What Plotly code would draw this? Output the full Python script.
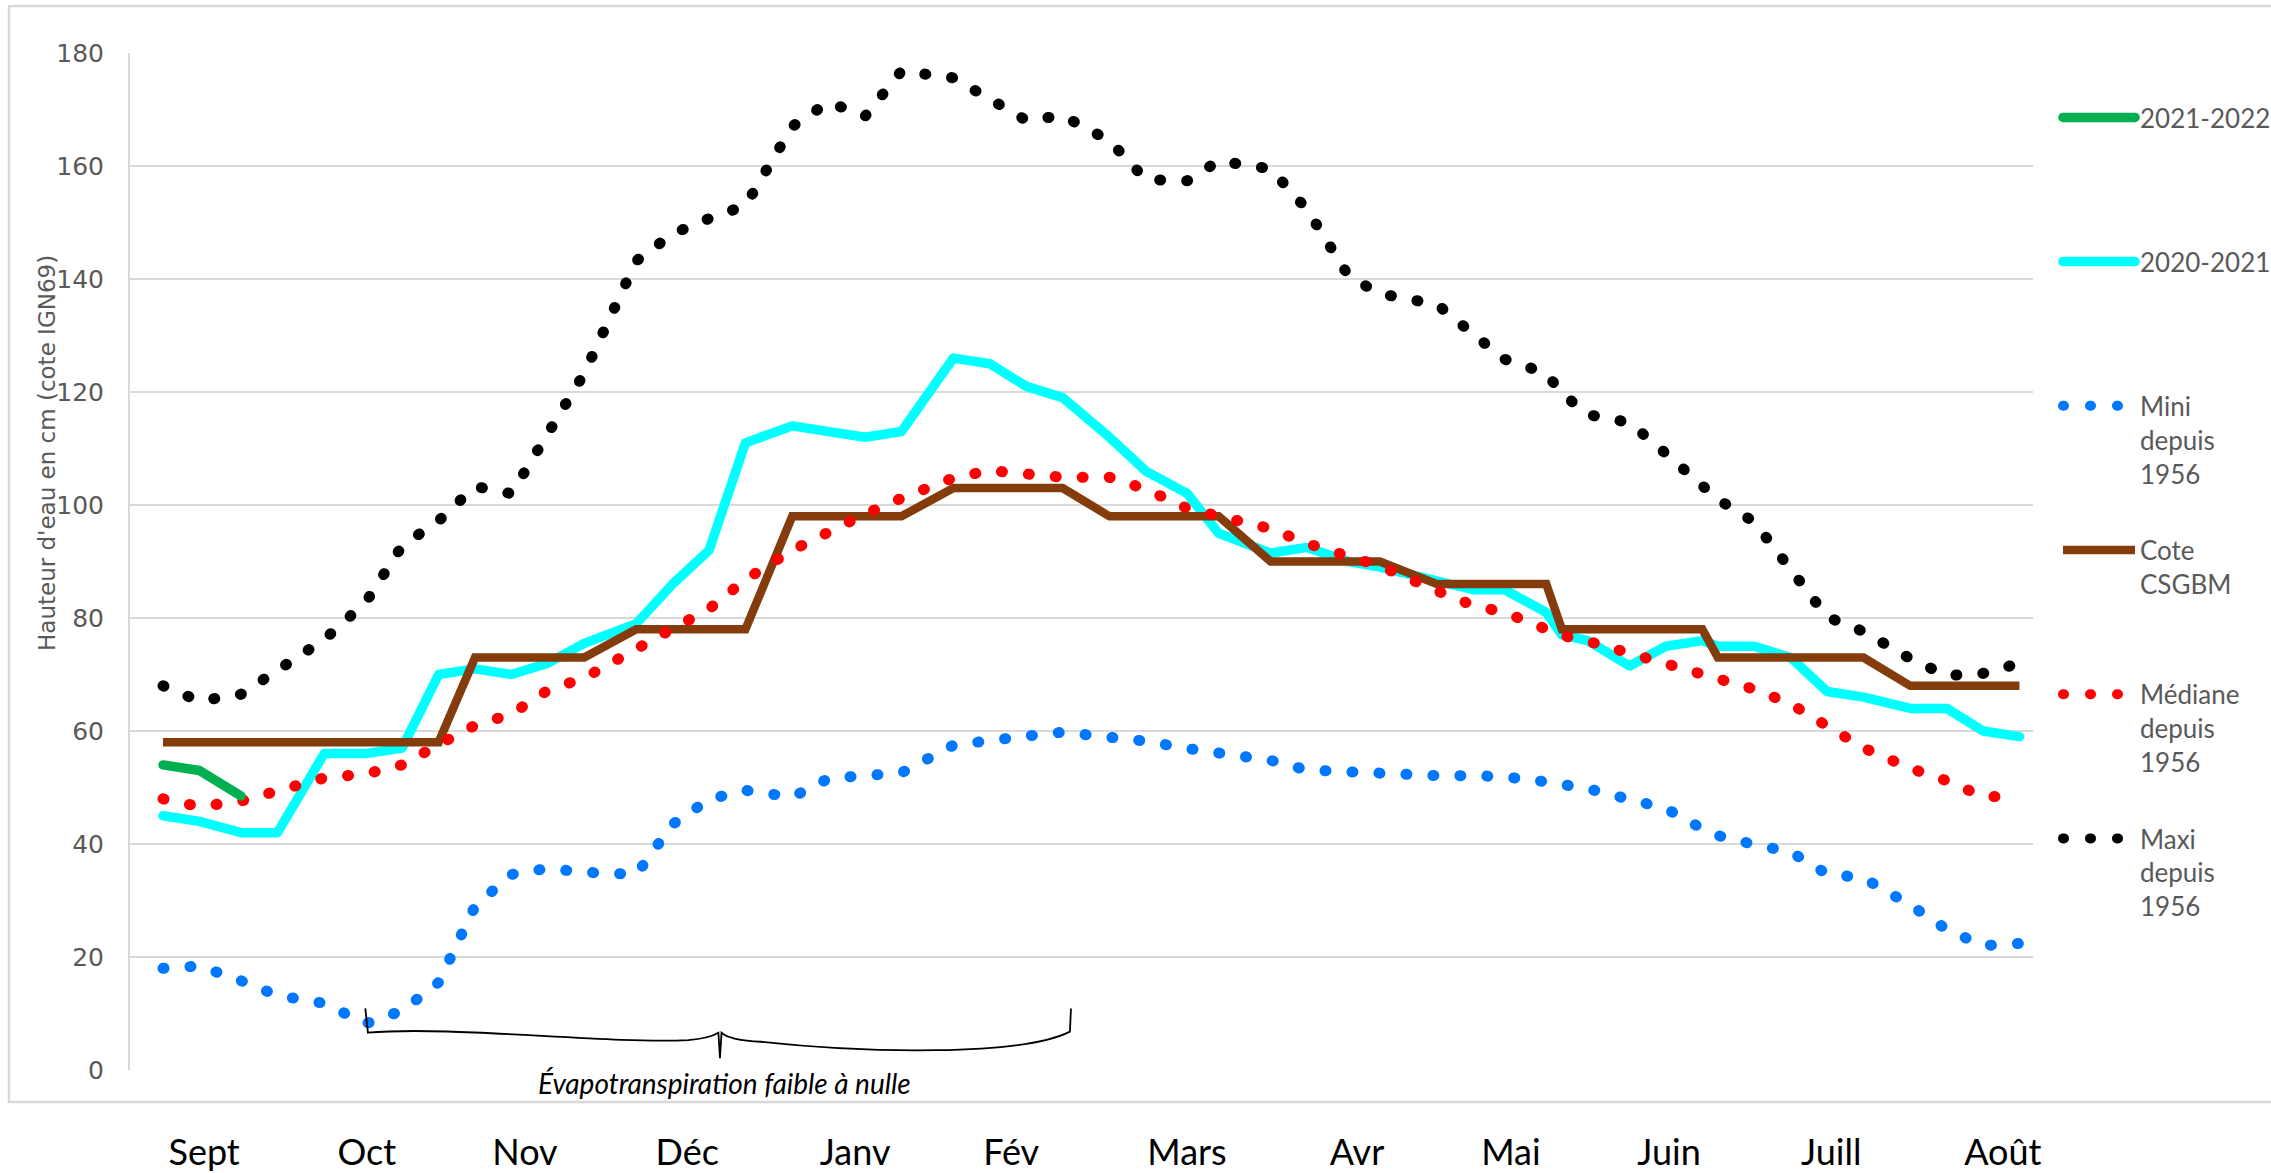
import plotly.graph_objects as go

# ---------------- données ----------------
# jours écoulés depuis le 1er septembre (dates des relevés)
jours = [0, 7, 15, 22, 31, 39, 46, 53, 60, 67,
         74, 81, 91, 98, 105, 112, 121, 128, 135, 142,
         152, 159, 166, 173, 182, 189, 197, 203, 213, 220,
         228, 234, 245, 252, 258, 266, 269, 274, 282, 289,
         296, 299, 306, 313, 320, 327, 336, 343, 350, 357]

mois = ["Sept", "Oct", "Nov", "Déc", "Janv", "Fév",
        "Mars", "Avr", "Mai", "Juin", "Juill", "Août"]

niveau_2021_2022 = [54, 53, 48.5]

niveau_2020_2021 = [45, 44, 42, 42, 56, 56, 57, 70, 71, 70,
                    72, 75.5, 79, 86, 92, 111, 114, 113, 112, 113,
                    126, 125, 121, 119, 112, 106, 102, 95, 91.5, 92.5,
                    90, 89, 86.5, 85, 85, 81, 77, 76, 71.5, 75,
                    76, 75, 75, 73, 67, 66, 64, 64, 60, 59]

cote_csgbm = [58, 58, 58, 58, 58, 58, 58, 58, 73, 73,
              73, 73, 78, 78, 78, 78, 98, 98, 98, 98,
              103, 103, 103, 103, 98, 98, 98, 98, 90, 90,
              90, 90, 86, 86, 86, 86, 78, 78, 78, 78,
              78, 73, 73, 73, 73, 73, 68, 68, 68, 68]

mini_1956 = [18, 18.4, 15.8, 13.2, 11.8, 8.2, 10.5, 15.5, 29, 34.6,
             35.7, 35, 34.6, 43.5, 47.9, 49.5, 48.3, 51.6, 52.1, 52.6,
             57.5, 58.5, 59.1, 59.8, 59.1, 58.2, 56.9, 56.1, 54.8, 53.1,
             52.8, 52.2, 52.1, 52.1, 51.9, 51, 50.6, 49.8, 47.9, 46.3,
             42.7, 41.5, 39.9, 38.6, 34.7, 34, 29.2, 24.9, 22, 22.4]

mediane_1956 = [48, 46.6, 47.6, 49.5, 51.7, 52.4, 54, 57.6, 61, 63,
                67.2, 69.4, 74.8, 78.1, 81.6, 86.8, 92, 95.4, 98.4, 101.2,
                104.8, 106.1, 105.3, 104.9, 104.9, 102.8, 99.4, 98.1, 95.8, 93.2,
                91.2, 89.2, 84.8, 82.2, 81, 78, 76.9, 75.9, 73.8, 72.2,
                70.3, 69.7, 67.4, 64.8, 60.8, 57, 53.4, 51.2, 48.4, 48.4]

maxi_1956 = [68, 65.3, 66.5, 71, 76.2, 82.8, 92.8, 97.2, 103.3, 102,
             113, 123.3, 143.2, 148, 150.7, 153, 167, 171.3, 168.8, 176.8,
             175.6, 171.9, 168.1, 168.9, 164.5, 157.6, 157.4, 160.9, 159.5, 152.3,
             140.5, 137.4, 135.5, 130.2, 125.8, 123.3, 119.8, 116, 114.6, 109.1,
             103.3, 101, 97, 88.4, 80.2, 77.6, 72.8, 69.8, 70.2, 72]

# ---------------- mise en page ----------------
W, H = 2271, 1173
ML, MR, MT, MB = 130, 238, 53, 103
PW = W - ML - MR
PH = H - MT - MB
X_RANGE = [-6.35, 359.6]
MOIS_POS = [7.9, 39.2, 69.6, 100.8, 133.1, 163.1, 196.9, 229.6, 259.2, 289.6, 320.8, 353.8]


def px_x(p):
    return (p - ML) / PW


def px_y(p):
    return (H - MB - p) / PH


GRID = "#D9D9D9"
TXT = "#595959"
DOT = "1px,26px"

fig = go.Figure()

fig.add_trace(go.Scatter(x=jours, y=niveau_2020_2021, mode="lines", name="2020-2021<br>\u00a0<br>\u00a0<br>\u00a0",
                         legendgroup="g2", line=dict(color="#00FFFF", width=9.5), legendrank=2))
fig.add_trace(go.Scatter(x=jours, y=cote_csgbm, mode="lines", name="Cote<br>CSGBM<br>\u00a0<br>\u00a0",
                         legendgroup="g4", line=dict(color="#843C0C", width=8.5), legendrank=4))
fig.add_trace(go.Scatter(x=jours, y=mini_1956, mode="lines", name="Mini<br>depuis<br>1956<br>\u00a0",
                         legendgroup="g3", line=dict(color="#0077FF", width=11, dash=DOT), legendrank=3))
fig.add_trace(go.Scatter(x=jours, y=mediane_1956, mode="lines", name="Médiane<br>depuis<br>1956<br>\u00a0",
                         legendgroup="g5", line=dict(color="#FF0000", width=11, dash=DOT), legendrank=5))
fig.add_trace(go.Scatter(x=jours, y=maxi_1956, mode="lines", name="Maxi<br>depuis<br>1956",
                         legendgroup="g6", line=dict(color="#000000", width=11, dash=DOT), legendrank=6))
fig.add_trace(go.Scatter(x=jours[:len(niveau_2021_2022)], y=niveau_2021_2022, mode="lines",
                         name="2021-2022<br>\u00a0<br>\u00a0<br>\u00a0", legendgroup="g1",
                         line=dict(color="#00B050", width=9.5), legendrank=1))

fig.update_layout(
    width=W, height=H,
    margin=dict(l=ML, r=MR, t=MT, b=MB, autoexpand=False),
    paper_bgcolor="white", plot_bgcolor="white",
    showlegend=True,
    legend=dict(x=px_x(2058), xanchor="left", y=px_y(94), yanchor="top",
                valign="top", itemwidth=72, bgcolor="rgba(0,0,0,0)",
                tracegroupgap=6,
                font=dict(family="Lato", size=26, color=TXT)),
    xaxis=dict(range=X_RANGE, showgrid=False, zeroline=False, showline=False,
               tickmode="array", tickvals=MOIS_POS, ticktext=mois, ticks="",
               ticklabelstandoff=58, automargin=False,
               tickfont=dict(family="Lato", size=36, color="#000000")),
    yaxis=dict(range=[0, 180], dtick=20, showgrid=True, gridcolor=GRID, gridwidth=2,
               zeroline=False, showline=True, linecolor=GRID, linewidth=2, ticks="",
               ticklabelstandoff=19, automargin=False,
               tickfont=dict(family="DejaVu Sans", size=25, color=TXT)),
    font=dict(family="Lato", color=TXT),
)

# titre de l'axe vertical
fig.add_annotation(text="Hauteur d'eau en cm (cote IGN69)", xref="paper", yref="paper",
                   x=px_x(47), y=px_y(453), xanchor="center", yanchor="middle",
                   textangle=-90, showarrow=False,
                   font=dict(family="DejaVu Sans", size=23, color=TXT))

# accolade + légende de la période
brace = ("M38.9,10.9 L39.4,6.6 C55,7.9 85,4.6 101,5.3 Q105,5.6 106.8,6.6 "
         "L107.1,2.1 L107.4,6.6 Q109,5.2 115,5.0 C135,3.0 165,2.4 174.4,6.8 L174.6,10.9")
fig.add_shape(type="path", path=brace, xref="x", yref="y",
              line=dict(color="#000000", width=1.8))
fig.add_annotation(text="<i>Évapotranspiration faible à nulle</i>", xref="x", yref="paper",
                   x=107.9, y=px_y(1083), xanchor="center", yanchor="middle", showarrow=False,
                   font=dict(family="Lato", size=28, color="#000000"))

# cadre du graphique
fig.add_shape(type="rect", xref="paper", yref="paper",
              x0=px_x(9), x1=px_x(2290), y0=px_y(1102), y1=px_y(6),
              line=dict(color=GRID, width=2.5), fillcolor="rgba(0,0,0,0)", layer="below")

post = """
document.documentElement.style.margin = '0';
document.body.style.margin = '0';
document.body.style.padding = '0';
var gd = document.getElementById('{plot_id}');
gd.querySelectorAll('path.js-line').forEach(function(p){
  var s = (p.style.stroke || '').replace(/\\s/g,'');
  if (s !== 'rgb(132,60,12)') { p.style.strokeLinecap = 'round'; p.style.strokeLinejoin = 'round'; }
});
"""

fig.write_html("out.html", post_script=post, config={"displayModeBar": False})
